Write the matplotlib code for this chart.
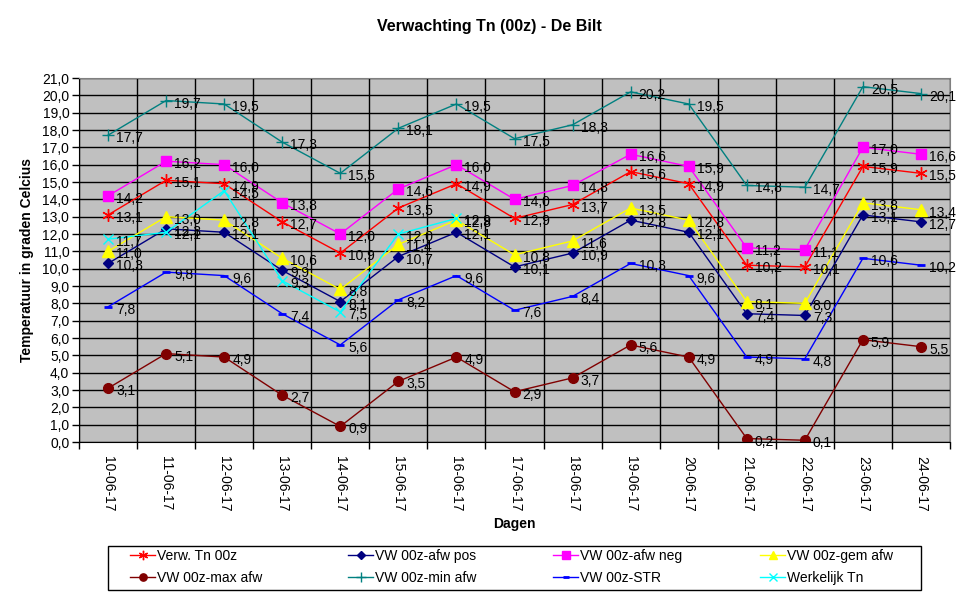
import numpy as np
from matplotlib import pyplot as plt
from matplotlib.patches import Rectangle

plt.rcParams['font.family'] = ['Liberation Sans', 'DejaVu Sans']

dagen = ['10-06-17', '11-06-17', '12-06-17', '13-06-17', '14-06-17',
         '15-06-17', '16-06-17', '17-06-17', '18-06-17', '19-06-17',
         '20-06-17', '21-06-17', '22-06-17', '23-06-17', '24-06-17']

verw_tn = [13.1, 15.1, 14.9, 12.7, 10.9, 13.5, 14.9, 12.9, 13.7, 15.6, 14.9, 10.2, 10.1, 15.9, 15.5]
afw_pos = [10.3, 12.3, 12.1, 9.9, 8.1, 10.7, 12.1, 10.1, 10.9, 12.8, 12.1, 7.4, 7.3, 13.1, 12.7]
afw_neg = [14.2, 16.2, 16.0, 13.8, 12.0, 14.6, 16.0, 14.0, 14.8, 16.6, 15.9, 11.2, 11.1, 17.0, 16.6]
gem_afw = [11.0, 13.0, 12.8, 10.6, 8.8, 11.4, 12.8, 10.8, 11.6, 13.5, 12.8, 8.1, 8.0, 13.8, 13.4]
max_afw = [3.1, 5.1, 4.9, 2.7, 0.9, 3.5, 4.9, 2.9, 3.7, 5.6, 4.9, 0.2, 0.1, 5.9, 5.5]
min_afw = [17.7, 19.7, 19.5, 17.3, 15.5, 18.1, 19.5, 17.5, 18.3, 20.2, 19.5, 14.8, 14.7, 20.5, 20.1]
vw_str = [7.8, 9.8, 9.6, 7.4, 5.6, 8.2, 9.6, 7.6, 8.4, 10.3, 9.6, 4.9, 4.8, 10.6, 10.2]
werkelijk = [11.7, 12.1, 14.5, 9.3, 7.5, 12.0, 12.9]

# (label, values, colour, marker, markersize)
series = [
    ('Verw. Tn 00z', verw_tn, '#FF0000', (6, 2, 0), 9),
    ('VW 00z-afw pos', afw_pos, '#000080', 'D', 5),
    ('VW 00z-afw neg', afw_neg, '#FF00FF', 's', 7),
    ('VW 00z-gem afw', gem_afw, '#FFFF00', '^', 8),
    ('VW 00z-max afw', max_afw, '#800000', 'o', 7),
    ('VW 00z-min afw', min_afw, '#008080', '+', 9),
    ('VW 00z-STR', vw_str, '#0000FF', '_', 6),
    ('Werkelijk Tn', werkelijk, '#00FFFF', 'x', 7),
]

fs = 10

fig = plt.figure(figsize=(9.75, 5.98), dpi=100)
ax = fig.add_axes([79 / 975, 1 - 442 / 598, 871 / 975, 364 / 598])
ax.set_facecolor('#C0C0C0')

x = np.arange(len(dagen))
handles = []
for label, vals, col, mk, ms in series:
    xs = x[:len(vals)]
    mew = 2 if mk == '_' else 1
    h, = ax.plot(xs, vals, color=col, lw=1, marker=mk, markersize=ms,
                 markeredgewidth=mew, markeredgecolor=col, label=label)
    handles.append(h)
    for xi, v in zip(xs, vals):
        ax.annotate(f'{v:.1f}'.replace('.', ','), (xi, v),
                    xytext=(8, -3), textcoords='offset pixels',
                    ha='left', va='center', fontsize=fs, color='black')

ax.set_xlim(-0.5, len(dagen) - 0.5)
ax.set_ylim(0, 21)
ax.set_yticks(np.arange(0, 22, 1))
ax.set_yticklabels([f'{v:.1f}'.replace('.', ',') for v in np.arange(0, 22, 1)])
ax.set_xticks(x)
ax.set_xticklabels(dagen, rotation=-90, va='top', ha='center')
ax.set_xticks(np.arange(-0.5, len(dagen), 1), minor=True)
ax.tick_params(axis='x', which='major', length=0, pad=10, labelsize=fs)
ax.tick_params(axis='x', which='minor', length=5, width=1, color='black')
ax.tick_params(axis='y', length=5, width=1, color='black', labelsize=fs, pad=2)

ax.grid(True, axis='y', color='black', lw=1)
ax.grid(True, axis='x', which='minor', color='black', lw=1)
ax.set_axisbelow(True)

for s in ['top', 'right']:
    ax.spines[s].set_color('#808080')
for s in ['left', 'bottom']:
    ax.spines[s].set_color('black')

fig.text(489 / 975, 1 - 27 / 598, 'Verwachting Tn (00z) - De Bilt',
         ha='center', va='center', fontsize=11.5, fontweight='bold')
ax.set_xlabel('Dagen', fontsize=fs, fontweight='bold', labelpad=4)
ax.set_ylabel('Temperatuur in graden Celcius', fontsize=fs, fontweight='bold', labelpad=6)

# legend: box plus four columns placed like the Excel legend
fig.add_artist(Rectangle((108 / 975, 1 - 590 / 598), 813 / 975, 44 / 598,
                         transform=fig.transFigure, fill=False,
                         edgecolor='black', lw=1))
col_x = [130, 348, 553, 760]
for c, cx in enumerate(col_x):
    fig.legend(handles=[handles[c], handles[c + 4]], loc='upper left',
               bbox_to_anchor=(cx / 975, 1 - 549 / 598), frameon=False,
               fontsize=fs, handlelength=1.8, handletextpad=0.15,
               borderpad=0, borderaxespad=0, labelspacing=0.6,
               markerscale=0.75)

fig.savefig('out.png', dpi=100)
